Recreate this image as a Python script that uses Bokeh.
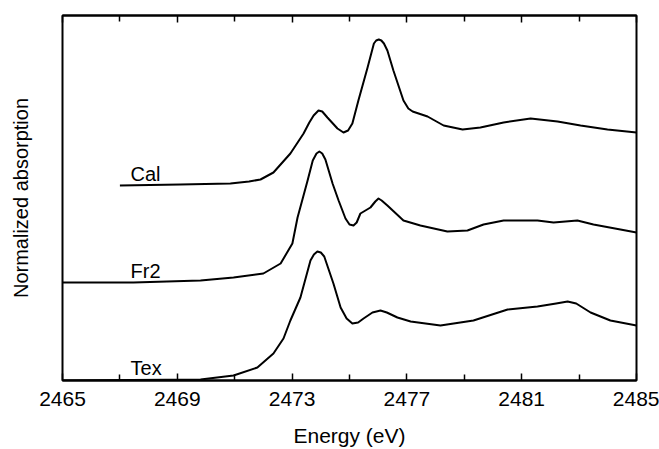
from bokeh.plotting import figure
from bokeh.models import LinearAxis, FixedTicker, Label, Range1d
from bokeh.embed import file_html
from bokeh.resources import INLINE

# ---- data ----
cal_energy = [2467.0, 2469.1, 2470.85, 2471.5, 2471.9, 2472.35, 2472.94, 2473.4, 2473.6,
              2473.75, 2473.92, 2474.05, 2474.23, 2474.58, 2474.79, 2474.95, 2475.1, 2475.31,
              2475.63, 2475.85, 2475.93, 2476.02, 2476.11, 2476.2, 2476.32, 2476.53, 2476.88,
              2477.05, 2477.2, 2477.72, 2478.28, 2478.94, 2479.56, 2480.37, 2481.31, 2482.25,
              2483.05, 2483.99, 2485.0]
cal_abs = [1.95, 1.96, 1.97, 1.99, 2.01, 2.08, 2.27, 2.47, 2.58,
           2.65, 2.70, 2.69, 2.63, 2.52, 2.48, 2.50, 2.57, 2.80,
           3.13, 3.37, 3.40, 3.41, 3.40, 3.37, 3.30, 3.10, 2.80,
           2.72, 2.69, 2.64, 2.55, 2.51, 2.53, 2.58, 2.62, 2.59,
           2.55, 2.51, 2.48]

fr2_energy = [2465.0, 2467.47, 2469.81, 2470.96, 2472.0, 2472.6, 2473.01, 2473.19, 2473.54,
              2473.72, 2473.85, 2473.95, 2474.05, 2474.16, 2474.41, 2474.62, 2474.86, 2475.0,
              2475.14, 2475.25, 2475.38, 2475.73, 2475.9, 2476.01, 2476.12, 2476.32, 2476.88,
              2477.47, 2478.41, 2479.11, 2479.67, 2480.37, 2481.55, 2482.11, 2482.94, 2483.5,
              2484.44, 2485.0]
fr2_abs = [0.98, 0.98, 1.00, 1.03, 1.07, 1.17, 1.37, 1.63, 2.00,
           2.20, 2.27, 2.29, 2.27, 2.21, 1.97, 1.80, 1.62, 1.56,
           1.55, 1.58, 1.67, 1.73, 1.79, 1.82, 1.80, 1.75, 1.60,
           1.55, 1.49, 1.50, 1.56, 1.60, 1.60, 1.58, 1.60, 1.56,
           1.51, 1.48]

tex_energy = [2465.0, 2469.81, 2470.96, 2471.79, 2472.35, 2472.7, 2472.94, 2473.29, 2473.64,
              2473.76, 2473.88, 2474.0, 2474.12, 2474.44, 2474.69, 2474.9, 2475.1, 2475.3,
              2475.49, 2475.8, 2476.08, 2476.3, 2476.67, 2477.13, 2478.17, 2479.32, 2480.51,
              2481.55, 2482.2, 2482.6, 2482.9, 2483.4, 2484.09, 2485.0]
tex_abs = [0.00, 0.01, 0.05, 0.13, 0.27, 0.42, 0.60, 0.83, 1.20,
           1.26, 1.29, 1.28, 1.24, 0.97, 0.73, 0.62, 0.57, 0.58,
           0.62, 0.68, 0.70, 0.68, 0.63, 0.59, 0.55, 0.60, 0.71,
           0.74, 0.77, 0.79, 0.77, 0.68, 0.60, 0.55]

series_names = ["Cal", "Fr2", "Tex"]
major_ticks = [2465, 2469, 2473, 2477, 2481, 2485]
minor_ticks = [2467, 2471, 2475, 2479, 2483]

FONT = "Liberation Sans"

p = figure(width=659, height=449, output_backend="svg", toolbar_location=None,
           x_range=Range1d(2465, 2485), y_range=Range1d(0, 3.65),
           min_border_left=62, min_border_right=23, min_border_top=15, min_border_bottom=69,
           background_fill_color="white", border_fill_color="white")
p.grid.visible = False
p.outline_line_color = "black"
p.outline_line_width = 2

ya = p.yaxis[0]
ya.axis_line_color = None
ya.major_tick_line_color = None
ya.minor_tick_line_color = None
ya.major_tick_in = 0
ya.major_tick_out = 0
ya.minor_tick_in = 0
ya.minor_tick_out = 0
ya.major_label_text_font_size = "0px"
ya.major_label_standoff = 0
ya.axis_label = "Normalized absorption"
ya.axis_label_text_font = FONT
ya.axis_label_text_font_size = "20px"
ya.axis_label_text_font_style = "normal"
ya.axis_label_text_color = "black"
ya.axis_label_standoff = 31

ticker = FixedTicker(ticks=major_ticks, minor_ticks=minor_ticks)
xa = p.xaxis[0]
xa.ticker = ticker
xa.axis_line_width = 2
xa.major_tick_in = 7
xa.major_tick_out = 0
xa.minor_tick_in = 6
xa.minor_tick_out = 0
xa.major_tick_line_width = 1.5
xa.minor_tick_line_width = 1.5
xa.major_label_text_font = FONT
xa.major_label_text_font_size = "21px"
xa.major_label_text_color = "black"
xa.major_label_standoff = 11
xa.axis_label = "Energy (eV)"
xa.axis_label_text_font = FONT
xa.axis_label_text_font_size = "21px"
xa.axis_label_text_font_style = "normal"
xa.axis_label_text_color = "black"
xa.axis_label_standoff = 15

top = LinearAxis(ticker=ticker, major_tick_in=7, major_tick_out=0, minor_tick_in=6,
                 minor_tick_out=0, major_tick_line_width=1.5, minor_tick_line_width=1.5,
                 axis_line_width=2, major_label_text_font_size="0px", major_label_standoff=0)
p.add_layout(top, "above")

for xs, ys in [(cal_energy, cal_abs), (fr2_energy, fr2_abs), (tex_energy, tex_abs)]:
    p.line(xs, ys, line_color="black", line_width=2, line_join="round")

label_pos = [(2467.37, 2.07), (2467.37, 1.10), (2467.37, 0.13)]
for name, (lx, ly) in zip(series_names, label_pos):
    p.add_layout(Label(x=lx, y=ly, text=name, text_font=FONT, text_font_size="20px",
                       text_align="left", text_baseline="alphabetic", text_color="black"))

open("out.html", "w").write(file_html(p, INLINE))
